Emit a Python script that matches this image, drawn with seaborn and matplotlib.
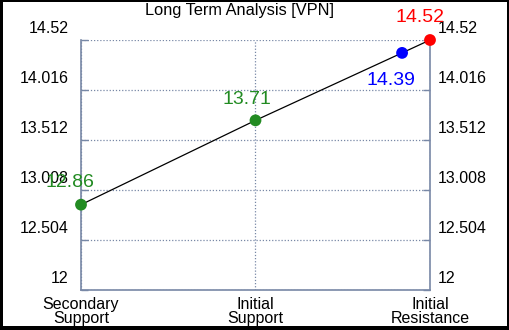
import numpy as np
import pandas as pd
import matplotlib
matplotlib.use('Agg')
import matplotlib.pyplot as plt
import seaborn as sns
from matplotlib.patches import Rectangle
from matplotlib.transforms import ScaledTranslation

# data
categories = ['Secondary\nSupport', 'Initial\nSupport', 'Initial\nResistance']
point_x = [0, 1, 1.84, 2]
point_y = [12.86, 13.71, 14.39, 14.52]
point_labels = ['12.86', '13.71', '14.39', '14.52']
point_colors = ['forestgreen', 'forestgreen', 'blue', 'red']
label_offsets = [(-8, 16), (-6, 15), (-8, -20), (-7, 16)]  # points
yticks = [12, 12.504, 13.008, 13.512, 14.016, 14.52]
ytick_labels = ['12', '12.504', '13.008', '13.512', '14.016', '14.52']

sns.set_style('white')
plt.rcParams['font.family'] = ['Liberation Sans', 'DejaVu Sans']

fig = plt.figure(figsize=(5.1, 3.3), dpi=100, facecolor='black')
# white card inside the black frame
fig.patches.append(Rectangle((3 / 510, 4 / 330), 504 / 510, 324 / 330,
                             transform=fig.transFigure, facecolor='white',
                             edgecolor='none', zorder=-1))
ax = fig.add_axes([81 / 510, 40 / 330, 349 / 510, 250 / 330])
ax.set_facecolor('white')

df = pd.DataFrame({'x': point_x, 'y': point_y, 'kind': point_labels})
sns.lineplot(data=df, x='x', y='y', color='black', linewidth=0.9, ax=ax,
             zorder=3)
sns.scatterplot(data=df, x='x', y='y', hue='kind', palette=point_colors,
                s=72, edgecolor='none', legend=False, ax=ax, zorder=4,
                clip_on=False)

for xv, yv, lab, col, off in zip(point_x, point_y, point_labels,
                                 point_colors, label_offsets):
    ax.annotate(lab, (xv, yv), xytext=off, textcoords='offset points',
                ha='center', va='center', color=col, fontsize=14, zorder=5)

slate = '#7888a6'
ax.set_xlim(0, 2)
ax.set_ylim(12, 14.52)
ax.set_xticks([0, 1, 2])
ax.set_xticklabels(categories, fontsize=11.5, linespacing=0.95)
ax.set_yticks(yticks)
ax.set_yticklabels(ytick_labels, fontsize=11.5)
ax.set_xlabel('')
ax.set_ylabel('')

ax.tick_params(axis='both', direction='in', length=5, color=slate,
               width=1, labelcolor='black')
ax.tick_params(axis='y', which='both', left=True, right=True,
               labelleft=True, labelright=True, pad=9)
ax.tick_params(axis='x', pad=5)
# right-side labels sit closer to the spine
for t in ax.yaxis.get_major_ticks():
    t.label2.set_transform(t.label2.get_transform() +
                           ScaledTranslation(-0.05, 0, fig.dpi_scale_trans))
# labels are drawn above their grid lines in the reference
for t in ax.yaxis.get_major_ticks():
    for lab in (t.label1, t.label2):
        lab.set_transform(lab.get_transform() +
                          ScaledTranslation(0, 0.13, fig.dpi_scale_trans))

ax.grid(True, linestyle=(0, (1, 1.5)), color=slate, linewidth=0.9)
for side in ['left', 'right', 'bottom']:
    ax.spines[side].set_color(slate)
    ax.spines[side].set_linewidth(1.2)
ax.spines['top'].set_visible(False)

fig.text(240 / 510, 1 - 10 / 330, 'Long Term Analysis [VPN]', ha='center',
         va='center', fontsize=11.8, color='black')

fig.savefig('out.png', dpi=100, facecolor='black')
